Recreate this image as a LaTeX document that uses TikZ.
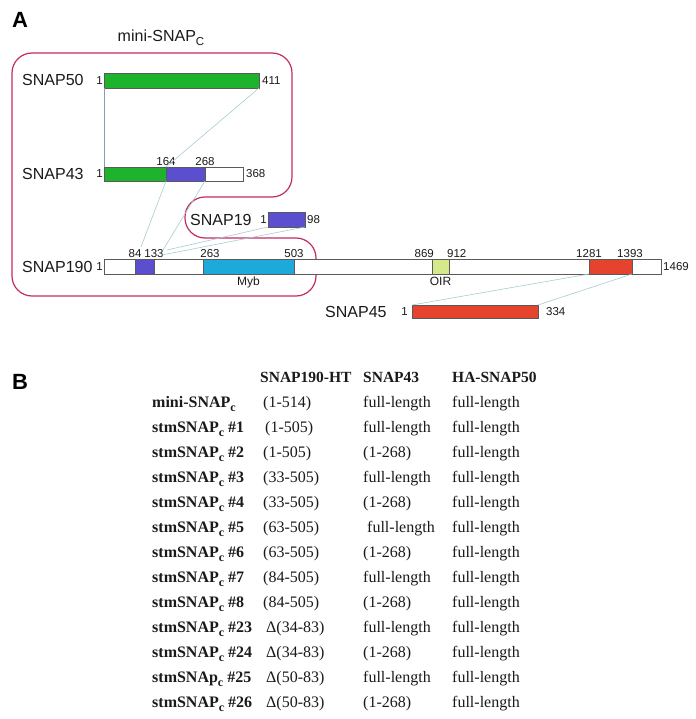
\documentclass[tikz,border=0pt]{standalone}
\usepackage{fontspec}
\setmainfont{Liberation Serif}
\setsansfont{Liberation Sans}
\definecolor{gr}{HTML}{1EB32C}
\definecolor{pu}{HTML}{5B4FCF}
\definecolor{cy}{HTML}{1DAADA}
\definecolor{oi}{HTML}{D3E98A}
\definecolor{rd}{HTML}{E5432D}
\definecolor{pk}{HTML}{C22C66}
\definecolor{bl}{HTML}{5A5A5A}
\definecolor{cn}{HTML}{A8CCD2}
\definecolor{cv}{HTML}{8C98BC}
\definecolor{tx}{HTML}{1A1A1A}
\begin{document}
\begin{tikzpicture}[x=1pt,y=-1pt,
  bar/.style={draw=bl, line width=0.7pt, inner sep=0pt, outer sep=0pt, anchor=north west},
  num/.style={font=\sffamily\fontsize{11.5}{12}\selectfont, inner sep=1pt, text=tx},
  plabel/.style={font=\sffamily\fontsize{16}{18}\selectfont, anchor=west, inner sep=0pt, text=tx},
  dom/.style={font=\sffamily\fontsize{12}{13}\selectfont, inner sep=1pt, anchor=north, text=tx},
  conn/.style={draw=cn, line width=0.6pt},
  rowlab/.style={font=\bfseries\fontsize{16}{18}\selectfont, anchor=base west, inner sep=0pt, text=tx},
  cell/.style={font=\fontsize{16}{18}\selectfont, anchor=base west, inner sep=0pt, text=tx},
  head/.style={font=\bfseries\fontsize{15.5}{18}\selectfont, anchor=base west, inner sep=0pt, text=tx}]
\useasboundingbox (0,0) rectangle (695,719);
\fill[white] (0,0) rectangle (695,719);

% panel letters
\node[font=\sffamily\bfseries\fontsize{22}{24}\selectfont] (lA) at (20,20) {A};
\node[font=\sffamily\bfseries\fontsize{22}{24}\selectfont] (lB) at (20,382) {B};

% mini-SNAPc outline
\node[font=\sffamily\fontsize{16}{18}\selectfont, inner sep=0pt, text=tx] (mini) at (161,38) {mini-SNAP\raisebox{-4pt}{\fontsize{11.5}{12}\selectfont C}};
\draw[pk, line width=1.2pt, rounded corners=20pt]
  (12,53) -- (292,53) -- (292,197) -- (185,197) -- (185,238) -- (316,238) -- (316,296) -- (12,296) -- cycle;

% SNAP50
\node[plabel] (n50) at (22,80) {SNAP50};
\node[bar, fill=gr, minimum width=155pt, minimum height=15pt] (s50) at (104,73) {};
\node[num, anchor=east] (s50l) at (s50.west) {1};
\node[num, anchor=west] (s50r) at ([xshift=2pt]s50.east) {411};

% SNAP43
\node[plabel] (n43) at (22,174) {SNAP43};
\node[bar, fill=white, minimum width=139pt, minimum height=14pt] (s43) at (104,167) {};
\node[bar, fill=gr, minimum width=62pt, minimum height=14pt] (s43a) at (104,167) {};
\node[bar, fill=pu, minimum width=39pt, minimum height=14pt] (s43b) at (166,167) {};
\node[num, anchor=east] (s43l) at (s43.west) {1};
\node[num, anchor=west] (s43r) at ([xshift=2pt]s43.east) {368};
\node[num, anchor=south] (t164) at ([yshift=0.5pt]s43a.north east) {164};
\node[num, anchor=south] (t268) at ([yshift=0.5pt]s43b.north east) {268};

% SNAP19
\node[plabel] (n19) at (190,220) {SNAP19};
\node[bar, fill=pu, minimum width=37pt, minimum height=15pt] (s19) at (268,212) {};
\node[num, anchor=east] (s19l) at (s19.west) {1};
\node[num, anchor=west] (s19r) at ([xshift=1pt]s19.east) {98};

% SNAP190
\node[plabel] (n190) at (22,267) {SNAP190};
\node[bar, fill=white, minimum width=557pt, minimum height=15pt] (s190) at (104,259) {};
\node[bar, fill=pu, minimum width=19pt, minimum height=15pt] (s190a) at (135,259) {};
\node[bar, fill=cy, minimum width=91pt, minimum height=15pt] (myb) at (203,259) {};
\node[bar, fill=oi, minimum width=17pt, minimum height=15pt] (oir) at (432,259) {};
\node[bar, fill=rd, minimum width=43pt, minimum height=15pt] (s190r) at (589,259) {};
\node[num, anchor=east] (s190l) at (s190.west) {1};
\node[num, anchor=west] (s190e) at ([xshift=1pt]s190.east) {1469};
\node[num, anchor=south] (t84) at ([yshift=0.5pt]s190a.north west) {84};
\node[num, anchor=south] (t133) at ([yshift=0.5pt]s190a.north east) {133};
\node[num, anchor=south] (t263) at ([xshift=7pt,yshift=0.5pt]myb.north west) {263};
\node[num, anchor=south] (t503) at ([yshift=0.5pt]myb.north east) {503};
\node[num, anchor=south east] (t869) at ([xshift=3pt,yshift=0.5pt]oir.north west) {869};
\node[num, anchor=south west] (t912) at ([xshift=-3pt,yshift=0.5pt]oir.north east) {912};
\node[num, anchor=south] (t1281) at ([yshift=0.5pt]s190r.north west) {1281};
\node[num, anchor=south] (t1393) at ([xshift=-2pt,yshift=0.5pt]s190r.north east) {1393};
\node[dom] (lmyb) at ([yshift=-2pt]myb.south) {Myb};
\node[dom] (loir) at ([yshift=-2pt]oir.south) {OIR};

% SNAP45
\node[plabel] (n45) at (325,312) {SNAP45};
\node[bar, fill=rd, minimum width=126pt, minimum height=13pt] (s45) at (412,305) {};
\node[num, anchor=east] (s45l) at ([xshift=-3pt]s45.west) {1};
\node[num, anchor=west] (s45r) at ([xshift=7pt]s45.east) {334};

% connectors
\coordinate (e84) at (141,247);
\coordinate (e133a) at (163,250);
\coordinate (e133b) at (167,250);
\coordinate (e133c) at (162,255);
\draw[draw=cv, line width=0.6pt] (s50.south west) -- (s43.north west);
\draw[conn] (s50.south east) -- (s43a.north east);
\draw[conn] (s43a.south east) -- (e84);
\draw[conn] (s43b.south east) -- (e133a);
\draw[conn] (s19.south west) -- (e133b);
\draw[conn] (s19.south east) -- (e133c);
\draw[conn] (s190r.south west) -- (s45.north west);
\draw[conn] (s190r.south east) -- (s45.north east);

% table B
\newcommand{\subc}{\raisebox{-4pt}{\fontsize{12}{12}\selectfont c}}
\node[head] (h1) at (260,382) {SNAP190-HT};
\node[head] (h2) at (363,382) {SNAP43};
\node[head] (h3) at (452,382) {HA-SNAP50};

\node[rowlab] (r1) at (152,407) {mini-SNAP\subc};
\node[cell] (r1a) at (263,407) {(1-514)};
\node[cell] (r1b) at (363,407) {full-length};
\node[cell] (r1c) at (452,407) {full-length};

\node[rowlab] (r2) at (152,432) {stmSNAP\subc{} \#1};
\node[cell] (r2a) at (265,432) {(1-505)};
\node[cell] (r2b) at (363,432) {full-length};
\node[cell] (r2c) at (452,432) {full-length};

\node[rowlab] (r3) at (152,457) {stmSNAP\subc{} \#2};
\node[cell] (r3a) at (263,457) {(1-505)};
\node[cell] (r3b) at (363,457) {(1-268)};
\node[cell] (r3c) at (452,457) {full-length};

\node[rowlab] (r4) at (152,482) {stmSNAP\subc{} \#3};
\node[cell] (r4a) at (263,482) {(33-505)};
\node[cell] (r4b) at (363,482) {full-length};
\node[cell] (r4c) at (452,482) {full-length};

\node[rowlab] (r5) at (152,507) {stmSNAP\subc{} \#4};
\node[cell] (r5a) at (263,507) {(33-505)};
\node[cell] (r5b) at (363,507) {(1-268)};
\node[cell] (r5c) at (452,507) {full-length};

\node[rowlab] (r6) at (152,532) {stmSNAP\subc{} \#5};
\node[cell] (r6a) at (263,532) {(63-505)};
\node[cell] (r6b) at (367,532) {full-length};
\node[cell] (r6c) at (452,532) {full-length};

\node[rowlab] (r7) at (152,557) {stmSNAP\subc{} \#6};
\node[cell] (r7a) at (263,557) {(63-505)};
\node[cell] (r7b) at (363,557) {(1-268)};
\node[cell] (r7c) at (452,557) {full-length};

\node[rowlab] (r8) at (152,582) {stmSNAP\subc{} \#7};
\node[cell] (r8a) at (263,582) {(84-505)};
\node[cell] (r8b) at (363,582) {full-length};
\node[cell] (r8c) at (452,582) {full-length};

\node[rowlab] (r9) at (152,607) {stmSNAP\subc{} \#8};
\node[cell] (r9a) at (263,607) {(84-505)};
\node[cell] (r9b) at (363,607) {(1-268)};
\node[cell] (r9c) at (452,607) {full-length};

\node[rowlab] (r10) at (152,632) {stmSNAP\subc{} \#23};
\node[cell] (r10a) at (266,632) {Δ(34-83)};
\node[cell] (r10b) at (363,632) {full-length};
\node[cell] (r10c) at (452,632) {full-length};

\node[rowlab] (r11) at (152,657) {stmSNAP\subc{} \#24};
\node[cell] (r11a) at (266,657) {Δ(34-83)};
\node[cell] (r11b) at (363,657) {(1-268)};
\node[cell] (r11c) at (452,657) {full-length};

\node[rowlab] (r12) at (152,682) {stmSNAp\subc{} \#25};
\node[cell] (r12a) at (266,682) {Δ(50-83)};
\node[cell] (r12b) at (363,682) {full-length};
\node[cell] (r12c) at (452,682) {full-length};

\node[rowlab] (r13) at (152,707) {stmSNAP\subc{} \#26};
\node[cell] (r13a) at (266,707) {Δ(50-83)};
\node[cell] (r13b) at (363,707) {(1-268)};
\node[cell] (r13c) at (452,707) {full-length};
\end{tikzpicture}
\end{document}
